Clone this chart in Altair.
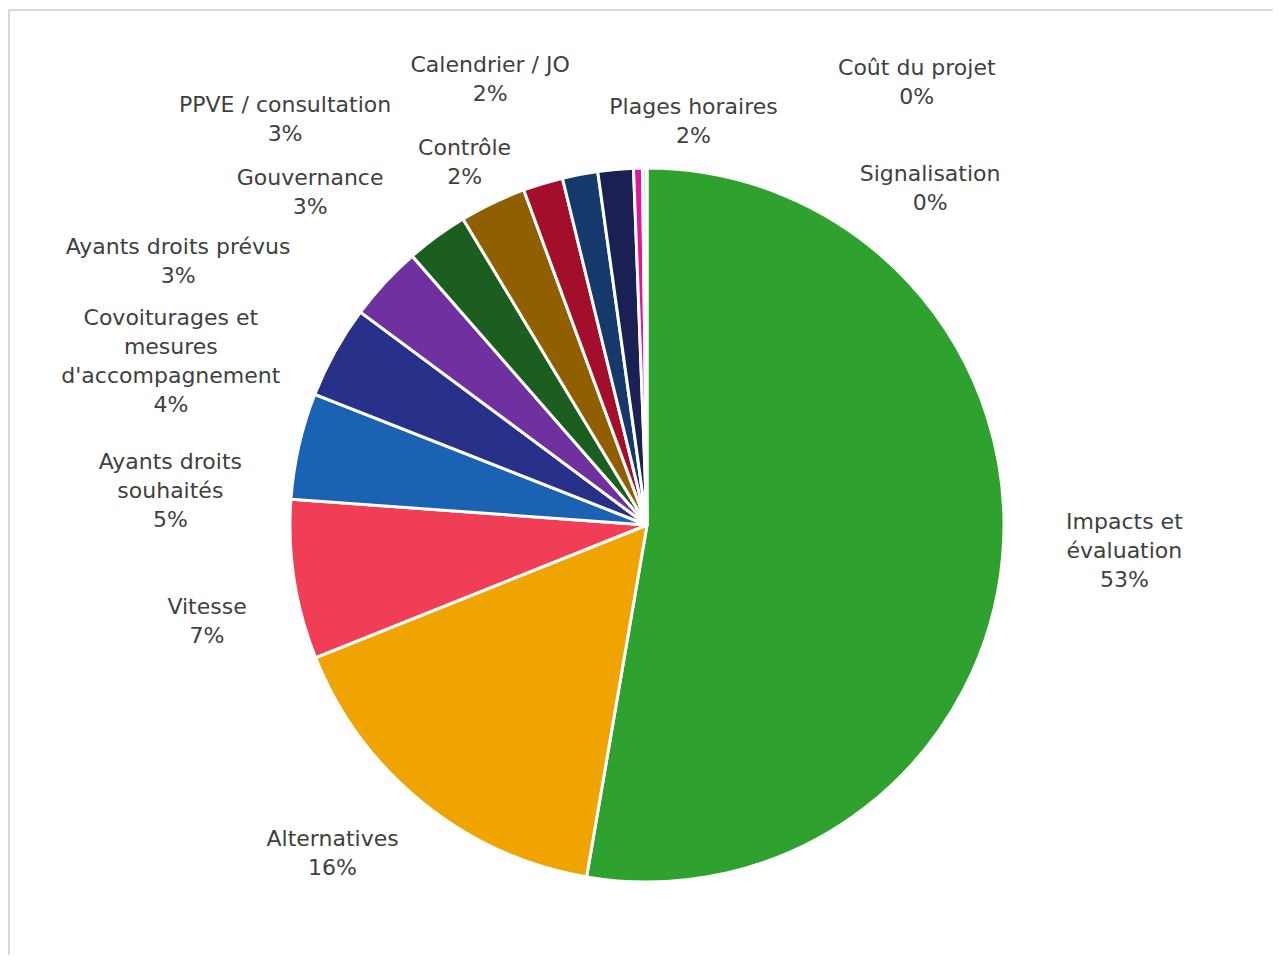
import altair as alt
import pandas as pd

# ---- data ----
CATEGORIES = [
    "Impacts et évaluation", "Alternatives", "Vitesse", "Ayants droits souhaités",
    "Covoiturages et mesures d'accompagnement", "Ayants droits prévus", "Gouvernance",
    "PPVE / consultation", "Contrôle", "Calendrier / JO", "Plages horaires",
    "Coût du projet", "Signalisation",
]
COUNTS = [263, 81, 36, 24, 21, 17, 14, 15, 9, 8, 8, 2, 1]
LABEL_TEXT = [
    "Impacts et\névaluation", "Alternatives", "Vitesse", "Ayants droits\nsouhaités",
    "Covoiturages et\nmesures\nd'accompagnement", "Ayants droits prévus", "Gouvernance",
    "PPVE / consultation", "Contrôle", "Calendrier / JO", "Plages horaires",
    "Coût du projet", "Signalisation",
]
COLORS = [
    "#2ea12f", "#f0a402", "#ef3e56", "#1b63b2", "#27318a", "#7031a0", "#1c5e20",
    "#8f5f00", "#a30e2b", "#15396b", "#1a1f54", "#e3169b", "#d6ead6",
]

# ---- label layout (Excel "best fit" placement: angular nudge in degrees, radius in px) ----
LABEL_NUDGE = [-2, 5, -3.3, -8.5, -9.9, -13.2, -9.1, -16, -9.6, -8.5, 11.6, 32.7, 40.3]
LABEL_RADIUS = [478, 453, 450, 478, 504, 539, 475, 545, 408, 474, 408, 520, 441]

df = pd.DataFrame({
    "cat": CATEGORIES,
    "value": COUNTS,
    "wrap": LABEL_TEXT,
    "idx": list(range(len(CATEGORIES))),
    "nudge": LABEL_NUDGE,
    "lr": LABEL_RADIUS,
})

W, H = 1000, 800
PAD = {"left": 139, "top": 117, "right": 126, "bottom": 30}
FONT = "DejaVu Sans"
LH = 29

base = alt.Chart(df)

arcs = base.mark_arc(outerRadius=357, stroke="white", strokeWidth=3).encode(
    theta=alt.Theta("value:Q", stack=True),
    order=alt.Order("idx:Q"),
    color=alt.Color("cat:N", scale=alt.Scale(domain=CATEGORIES, range=COLORS), legend=None),
)

labels = base.transform_joinaggregate(
    total="sum(value)"
).transform_window(
    cum="sum(value)", sort=[alt.SortField("idx")], frame=[None, 0]
).transform_calculate(
    a0="((datum.cum - datum.value/2) / datum.total * 360 + datum.nudge) * PI / 180",
    txt="datum.wrap + '\\n' + format(datum.value / datum.total, '.0%')",
).transform_calculate(
    nl="length(split(datum.txt, '\\n'))",
).transform_calculate(
    px="datum.lr * sin(datum.a0)",
    py=f"-datum.lr * cos(datum.a0) - (datum.nl - 1) * {LH / 2} + 2",
).transform_calculate(
    r2="sqrt(datum.px * datum.px + datum.py * datum.py)",
    a2="atan2(datum.px, -datum.py)",
).mark_text(
    font=FONT, fontSize=22, color="#404040", align="center", baseline="middle",
    lineBreak="\n", lineHeight=LH,
).encode(
    theta=alt.Theta("a2:Q", scale=None, stack=False),
    radius=alt.Radius("r2:Q", scale=None),
    text="txt:N",
)

frame_left = base.mark_rule(color="#d9d9d9", strokeWidth=2).encode(
    x=alt.value(-138), y=alt.value(-115), y2=alt.value(H + 30)
)
frame_top = base.mark_rule(color="#d9d9d9", strokeWidth=2).encode(
    x=alt.value(-138), x2=alt.value(W + 126), y=alt.value(-115)
)

chart = alt.layer(frame_left, frame_top, arcs, labels).resolve_scale(
    theta="independent", radius="independent"
).properties(
    width=W, height=H, padding=PAD,
    autosize=alt.AutoSizeParams(type="none"),
    background="white",
).configure_view(stroke=None)

chart.save("out.html", embed_options={"renderer": "svg", "actions": False})
